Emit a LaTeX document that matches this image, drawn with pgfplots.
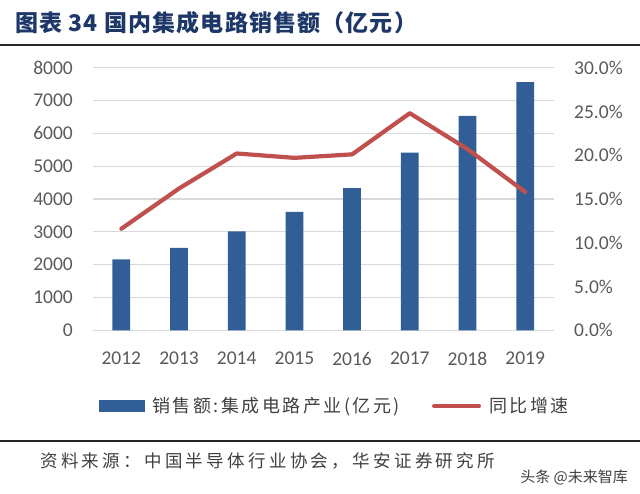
\documentclass[border=0pt]{standalone}
\usepackage{pgfplots}
\pgfplotsset{compat=1.18}
\usepackage{fontspec}
\setmainfont{Carlito}
\newfontfamily\cjk{Noto Sans CJK SC}
\definecolor{barblue}{RGB}{49,94,150}
\definecolor{linered}{RGB}{192,80,77}
\definecolor{gridgray}{RGB}{217,217,217}
\definecolor{tickgray}{RGB}{89,89,89}
\definecolor{titleblue}{RGB}{30,55,105}
\definecolor{legendgray}{RGB}{64,64,64}
\begin{document}
\begin{tikzpicture}
\path[use as bounding box] (0pt,0pt) rectangle (640pt,-494pt);
\node[anchor=west, inner sep=0pt, text=titleblue] at (15pt,-23pt)
  {\cjk\bfseries\fontsize{23}{25}\selectfont\addfontfeature{LetterSpace=5}图表 34 国内集成电路销售额（亿元）};
\draw[line width=2.5pt, black!85] (0pt,-45pt) -- (640pt,-45pt);
\draw[line width=2pt, black!85] (0pt,-441pt) -- (640pt,-441pt);
\node[anchor=west, inner sep=0pt, text=legendgray] at (40pt,-461.5pt)
  {\cjk\fontsize{17.5}{19}\selectfont\addfontfeature{LetterSpace=19}资料来源：中国半导体行业协会，华安证券研究所};
\node[anchor=east, inner sep=0pt, text=black!75] at (628pt,-477pt)
  {\cjk\fontsize{15}{17}\selectfont 头条 @未来智库};

\pgfplotsset{
  common/.style={
    scale only axis, width=461.5pt, height=262.6pt,
    at={(92.5pt,-330.3pt)}, anchor=south west,
    xmin=-0.5, xmax=7.5,
    axis line style={draw=none},
    major tick length=0pt,
    tick label style={font=\fontsize{19.5}{21}\selectfont, text=tickgray},
  }
}
\begin{axis}[common,
  ybar, bar width=17.7pt,
  ymin=0, ymax=8000, ytick={0,1000,...,8000},
  scaled y ticks=false,
  /pgf/number format/.cd, 1000 sep={}, assume math mode=true, /pgfplots/.cd,
  ymajorgrids, grid style={color=gridgray, line width=1.3pt},
  xtick={0,...,7},
  xticklabels={2012,2013,2014,2015,2016,2017,2018,2019},
  yticklabel style={anchor=east, inner sep=0pt, xshift=-19.5pt},
  xticklabel style={anchor=north, inner sep=0pt, yshift=-21.5pt},
]
\addplot[fill=barblue, draw=none] coordinates {
  (0,2158) (1,2508) (2,3015) (3,3609) (4,4335) (5,5411) (6,6532) (7,7562)};
\end{axis}
\begin{axis}[common,
  axis y line*=right,
  ymin=0, ymax=30, ytick={0,5,...,30},
  yticklabels={0.0\%,5.0\%,10.0\%,15.0\%,20.0\%,25.0\%,30.0\%},
  xtick=\empty,
  yticklabel style={anchor=west, inner sep=0pt, xshift=20pt},
  legend style={at={(0.013,-0.288)}, anchor=west, draw=none, fill=none,
    inner sep=0pt, legend columns=2,
    font=\cjk\fontsize{18}{20}\selectfont\addfontfeature{LetterSpace=14},
    text=legendgray,
    /tikz/every odd column/.append style={column sep=6pt},
    /tikz/every even column/.append style={column sep=30pt}},
  legend cell align=left,
]
\addlegendimage{legend image code/.code={\fill[barblue] (0pt,-5.3pt) rectangle (45pt,5.3pt);}}
\addlegendentry{销售额:集成电路产业(亿元)}
\addplot[linered, line width=4.2pt, line join=round, line cap=round, mark=none,
  legend image code/.code={\draw[linered, line width=4pt, line cap=round] (1pt,0pt) -- (46pt,0pt);}]
  coordinates {(0,11.6) (1,16.2) (2,20.2) (3,19.7) (4,20.1) (5,24.8) (6,20.7) (7,15.8)};
\addlegendentry{同比增速}
\end{axis}
\end{tikzpicture}
\end{document}
